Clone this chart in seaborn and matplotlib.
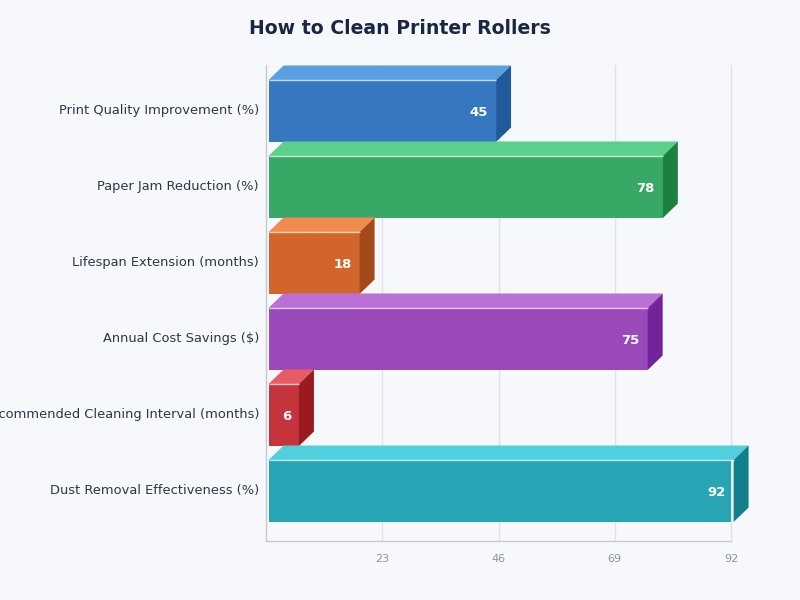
import pandas as pd
import seaborn as sns
import matplotlib
matplotlib.use("Agg")
import matplotlib.pyplot as plt
from matplotlib.patches import Polygon
from matplotlib.transforms import ScaledTranslation

# values
categories = [
    "Print Quality Improvement (%)",
    "Paper Jam Reduction (%)",
    "Lifespan Extension (months)",
    "Annual Cost Savings ($)",
    "Recommended Cleaning Interval (months)",
    "Dust Removal Effectiveness (%)",
]
values = [45, 78, 18, 75, 6, 92]
x_ticks = [23, 46, 69, 92]

front_colors = ["#3578c0", "#38a866", "#d2652c", "#9a4ab8", "#c5343d", "#28a5b5"]
top_colors = ["#5a9fe0", "#5ad08a", "#f08c50", "#bb70d8", "#e85a65", "#50d0dc"]
side_colors = ["#1f5a9a", "#1c8040", "#a34a18", "#72259a", "#991b1f", "#117f8c"]

bg = "#f6f8fc"
df = pd.DataFrame({"category": categories, "value": values})

sns.set_style("white")
fig = plt.figure(figsize=(8, 6), dpi=100, facecolor=bg)
ax = fig.add_axes([266 / 800, 59 / 600, 465 / 800, 476 / 600], facecolor=bg)

sns.barplot(data=df, y="category", x="value", hue="category", palette=front_colors,
            legend=False, orient="h", width=0.816, saturation=1, linewidth=0,
            edgecolor="none", ax=ax, zorder=3)

ax.set_xlim(0, 92)
ax.set_ylim(5.658, -0.605)

# size of the fake 3D depth, and the small gap at the axis, in data units
px_x = 92 / 465
px_y = 6.263 / 476
depth_x = 15 * px_x
depth_y = 14.5 * px_y
shift = 2.6 * px_x

for bar, value, top_c, side_c in zip(ax.patches, values, top_colors, side_colors):
    bar.set_x(shift)
    x0 = shift
    x1 = shift + bar.get_width()
    y_top = bar.get_y()
    y_bot = y_top + bar.get_height()
    # top face
    ax.add_patch(Polygon([(x0, y_top), (x1, y_top), (x1 + depth_x, y_top - depth_y), (x0 + depth_x, y_top - depth_y)],
                         closed=True, facecolor=top_c, edgecolor="none", zorder=3, clip_on=False))
    # side face
    ax.add_patch(Polygon([(x1, y_top), (x1 + depth_x, y_top - depth_y), (x1 + depth_x, y_bot - depth_y), (x1, y_bot)],
                         closed=True, facecolor=side_c, edgecolor="none", zorder=3, clip_on=False))
    # light edge along the front
    ax.plot([x0, x1], [y_top, y_top], color="white", alpha=0.7, lw=1, zorder=4,
            solid_capstyle="butt", clip_on=False)
    ax.text(x1 - 8 * px_x, (y_top + y_bot) / 2 + 2 * px_y, str(value), color="white",
            fontsize=9.5, fontweight="bold", ha="right", va="center", zorder=5)

ax.set_xticks(x_ticks)
ax.set_xlabel("")
ax.set_ylabel("")
ax.grid(axis="x", color="#dfe2e8", lw=1, zorder=0)
ax.grid(axis="y", visible=False)
ax.set_axisbelow(True)
for line in ax.get_xgridlines():
    line.set_clip_on(False)

ax.tick_params(axis="x", length=0, pad=9, labelsize=8, labelcolor="#8a93a3")
ax.tick_params(axis="y", length=0, pad=5, labelsize=9.35, labelcolor="#2d3748")

# category labels sit a little above the bar centre
up = ScaledTranslation(0, 1.5 / 100, fig.dpi_scale_trans)
for label in ax.get_yticklabels():
    label.set_transform(label.get_transform() + up)

for name in ["top", "right"]:
    ax.spines[name].set_visible(False)
for name in ["left", "bottom"]:
    ax.spines[name].set_color("#c5c9d0")
    ax.spines[name].set_linewidth(1)

fig.text(0.5, 1 - 28 / 600, "How to Clean Printer Rollers", ha="center", va="center",
         fontsize=13.6, fontweight="bold", color="#1a2744")

fig.savefig("out.png", dpi=100, facecolor=bg)
